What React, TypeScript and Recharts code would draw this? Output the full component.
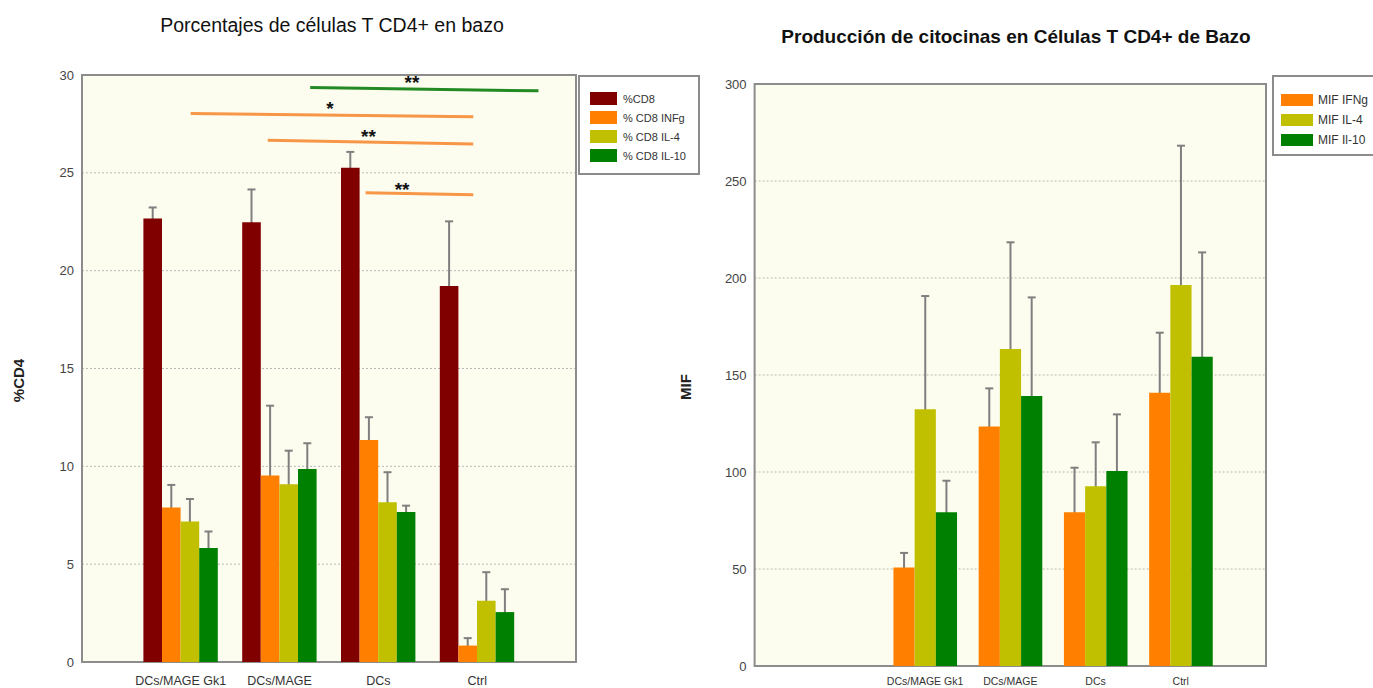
import React from 'react';
import {
  BarChart, Bar, XAxis, YAxis, CartesianGrid, Legend, ErrorBar,
  ReferenceArea, ReferenceLine, ReferenceDot,
} from 'recharts';

const groups = ['DCs/MAGE Gk1', 'DCs/MAGE', 'DCs', 'Ctrl'];

// %CD4 panel: means and SD
const cd8 = [22.67, 22.47, 25.26, 19.21];
const cd8Sd = [0.56, 1.68, 0.81, 3.31];
const cd8Ifng = [7.89, 9.53, 11.35, 0.84];
const cd8IfngSd = [1.16, 3.57, 1.16, 0.38];
const cd8Il4 = [7.18, 9.09, 8.17, 3.13];
const cd8Il4Sd = [1.15, 1.71, 1.53, 1.46];
const cd8Il10 = [5.82, 9.87, 7.66, 2.55];
const cd8Il10Sd = [0.85, 1.31, 0.33, 1.17];
const pctTicks = [0, 5, 10, 15, 20, 25, 30];
const pctNames = ['%CD8', '% CD8 INFg', '% CD8 IL-4', '% CD8 IL-10'];

// MIF panel
const mifIfng = [50.8, 123.4, 79.2, 140.9];
const mifIfngSd = [7.5, 19.7, 23.0, 30.9];
const mifIl4 = [132.3, 163.4, 92.6, 196.4];
const mifIl4Sd = [58.4, 55.0, 22.7, 71.8];
const mifIl10 = [79.2, 139.2, 100.5, 159.4];
const mifIl10Sd = [16.3, 50.8, 29.2, 53.8];
const mifTicks = [0, 50, 100, 150, 200, 250, 300];
const mifNames = ['MIF IFNg', 'MIF IL-4', 'MIF Il-10'];

// significance bars; x in group units (group i sits at i + 1)
const sigX1 = [2.31, 1.10, 1.88, 2.87];
const sigX2 = [4.62, 3.96, 3.96, 3.96];
const sigY1 = [29.36, 28.03, 26.67, 23.98];
const sigY2 = [29.19, 27.86, 26.47, 23.88];
const sigMarks = ['**', '*', '**', '**'];
const sigMarkX = [3.34, 2.51, 2.90, 3.24];
const sigMarkY = [29.62, 28.3, 26.86, 24.16];
const sigColors = ['#238a23', '#f79646', '#f79646', '#f79646'];

const C_RED = '#800000';
const C_ORANGE = '#ff8000';
const C_YELLOW = '#c0c000';
const C_GREEN = '#008000';
const PLOT_BG = '#fdfdef';
const FRAME = '#8c8c8c';
const ERR = '#7f7f7f';
const FONT = "'Liberation Sans Narrow', 'Liberation Sans', Arial, sans-serif";

// whiskers sit below the bars, so only the upper half shows
const ERR_Z = 250;
const BAR_Z = 300;

const pctData = groups.map((g, i) => ({
  group: g,
  pos: i + 1,
  cd8: cd8[i], cd8Err: cd8Sd[i],
  ifng: cd8Ifng[i], ifngErr: cd8IfngSd[i],
  il4: cd8Il4[i], il4Err: cd8Il4Sd[i],
  il10: cd8Il10[i], il10Err: cd8Il10Sd[i],
}));

// the MIF panel leaves an empty slot before the first group
const mifData = groups.map((g, i) => ({
  group: g,
  pos: i + 2,
  ifng: mifIfng[i], ifngErr: mifIfngSd[i],
  il4: mifIl4[i], il4Err: mifIl4Sd[i],
  il10: mifIl10[i], il10Err: mifIl10Sd[i],
}));

const brackets = sigMarks.map((m, i) => ({
  x1: sigX1[i], x2: sigX2[i], y1: sigY1[i], y2: sigY2[i],
  mark: m, mx: sigMarkX[i], my: sigMarkY[i], color: sigColors[i],
}));

const legendBox = (order: string[], o: { w: number; h: number; padTop: number; padLeft: number; row: number; sw: number; sh: number; gap: number; fs: number }) =>
  (props: any) => {
    const items = [...(props.payload || [])].sort((a: any, b: any) => order.indexOf(a.value) - order.indexOf(b.value));
    return (
      <div
        style={{
          width: o.w, height: o.h, boxSizing: 'border-box', border: `2px solid ${FRAME}`,
          background: '#ffffff', paddingTop: o.padTop, paddingLeft: o.padLeft, fontFamily: FONT,
        }}
      >
        {items.map((e: any) => (
          <div key={e.value} style={{ display: 'flex', alignItems: 'center', height: o.row }}>
            <span style={{ display: 'inline-block', width: o.sw, height: o.sh, background: e.color, marginRight: o.gap }} />
            <span style={{ fontSize: o.fs, color: '#333' }}>{e.value}</span>
          </div>
        ))}
      </div>
    );
  };

const sideLabel = (text: string, dx: number) => (props: any) => {
  const vb = props.viewBox;
  const cx = vb.x + dx;
  const cy = vb.y + vb.height / 2 + 12;
  return (
    <text x={cx} y={cy} transform={`rotate(-90 ${cx} ${cy})`} textAnchor="middle"
      dominantBaseline="central" fontWeight="bold" fontSize={15} fill="#222" fontFamily="'Liberation Sans', Arial, sans-serif">
      {text}
    </text>
  );
};

const PercentChart = () => (
  <BarChart width={700} height={688} data={pctData} barGap={0}
    margin={{ top: 75, right: 124, bottom: 0, left: 0 }}>
    <CartesianGrid vertical={false} stroke="#b8b8b8" strokeDasharray="2 2" fill={PLOT_BG} />
    <XAxis type="number" dataKey="pos" domain={[0, 5]} allowDataOverflow ticks={[1, 2, 3, 4]}
      tickFormatter={(v: number) => groups[v - 1]} interval={0}
      height={26} axisLine={false} tickLine={false} tickMargin={8}
      tick={{ fontSize: 12.5, fill: '#333' }} />
    <YAxis width={82} domain={[0, 30]} ticks={pctTicks} axisLine={false} tickLine={false}
      tick={{ fontSize: 13, fill: '#444' }} label={sideLabel('%CD4', 18)} />
    <Bar dataKey="cd8" name={pctNames[0]} fill={C_RED} barSize={18.6} zIndex={BAR_Z} isAnimationActive={false}>
      <ErrorBar dataKey="cd8Err" width={4} stroke={ERR} strokeWidth={2} direction="y" zIndex={ERR_Z} />
    </Bar>
    <Bar dataKey="ifng" name={pctNames[1]} fill={C_ORANGE} barSize={18.6} zIndex={BAR_Z} isAnimationActive={false}>
      <ErrorBar dataKey="ifngErr" width={4} stroke={ERR} strokeWidth={2} direction="y" zIndex={ERR_Z} />
    </Bar>
    <Bar dataKey="il4" name={pctNames[2]} fill={C_YELLOW} barSize={18.6} zIndex={BAR_Z} isAnimationActive={false}>
      <ErrorBar dataKey="il4Err" width={4} stroke={ERR} strokeWidth={2} direction="y" zIndex={ERR_Z} />
    </Bar>
    <Bar dataKey="il10" name={pctNames[3]} fill={C_GREEN} barSize={18.6} zIndex={BAR_Z} isAnimationActive={false}>
      <ErrorBar dataKey="il10Err" width={4} stroke={ERR} strokeWidth={2} direction="y" zIndex={ERR_Z} />
    </Bar>
    <ReferenceArea x1={0} x2={5} y1={0} y2={30} fill="none" stroke={FRAME} strokeWidth={2} ifOverflow="visible" />
    {brackets.map((b, i) => (
      <ReferenceLine key={`l${i}`} stroke={b.color} strokeWidth={3} ifOverflow="visible"
        segment={[{ x: b.x1, y: b.y1 }, { x: b.x2, y: b.y2 }]} />
    ))}
    {brackets.map((b, i) => (
      <ReferenceDot key={`m${i}`} x={b.mx} y={b.my} r={0} fill="none" stroke="none" ifOverflow="visible"
        label={{ value: b.mark, position: 'center', fill: '#111', fontSize: 19, fontWeight: 'bold' }} />
    ))}
    <Legend layout="vertical" align="center" verticalAlign="middle"
      wrapperStyle={{ left: 578, top: 75, width: 122, height: 100 }}
      content={legendBox(pctNames, { w: 122, h: 100, padTop: 12, padLeft: 10, row: 19, sw: 27, sh: 13, gap: 6, fs: 11 })} />
  </BarChart>
);

const MifChart = () => (
  <BarChart width={713} height={688} data={mifData} barGap={0}
    margin={{ top: 84, right: 107, bottom: 0, left: 0 }}>
    <CartesianGrid vertical={false} stroke="#b8b8b8" strokeDasharray="2 2" fill={PLOT_BG} />
    <XAxis type="number" dataKey="pos" domain={[0, 6]} allowDataOverflow ticks={[2, 3, 4, 5]}
      tickFormatter={(v: number) => groups[v - 2]} interval={0}
      height={22} axisLine={false} tickLine={false} tickMargin={6}
      tick={{ fontSize: 10.5, fill: '#333' }} />
    <YAxis width={94.6} domain={[0, 300]} ticks={mifTicks} axisLine={false} tickLine={false}
      tick={{ fontSize: 13, fill: '#444' }} label={sideLabel('MIF', 25)} />
    <Bar dataKey="ifng" name={mifNames[0]} fill={C_ORANGE} barSize={21.2} zIndex={BAR_Z} isAnimationActive={false}>
      <ErrorBar dataKey="ifngErr" width={4} stroke={ERR} strokeWidth={2} direction="y" zIndex={ERR_Z} />
    </Bar>
    <Bar dataKey="il4" name={mifNames[1]} fill={C_YELLOW} barSize={21.2} zIndex={BAR_Z} isAnimationActive={false}>
      <ErrorBar dataKey="il4Err" width={4} stroke={ERR} strokeWidth={2} direction="y" zIndex={ERR_Z} />
    </Bar>
    <Bar dataKey="il10" name={mifNames[2]} fill={C_GREEN} barSize={21.2} zIndex={BAR_Z} isAnimationActive={false}>
      <ErrorBar dataKey="il10Err" width={4} stroke={ERR} strokeWidth={2} direction="y" zIndex={ERR_Z} />
    </Bar>
    <ReferenceArea x1={0} x2={6} y1={0} y2={300} fill="none" stroke={FRAME} strokeWidth={2} ifOverflow="visible" />
    <Legend layout="vertical" align="center" verticalAlign="middle"
      wrapperStyle={{ left: 612, top: 75, width: 110, height: 81 }}
      content={legendBox(mifNames, { w: 110, h: 81, padTop: 13, padLeft: 7, row: 20, sw: 32, sh: 12, gap: 5, fs: 12 })} />
  </BarChart>
);

const titleStyle: React.CSSProperties = {
  position: 'absolute', whiteSpace: 'nowrap', transform: 'translate(-50%, -50%)',
  fontFamily: "'Liberation Sans', Arial, sans-serif", color: '#111',
};

export default function App() {
  return (
    <div style={{ position: 'absolute', left: 0, top: 0, width: 1373, height: 688, overflow: 'hidden', background: '#fff', fontFamily: FONT }}>
      <div style={{ position: 'absolute', left: 0, top: 0 }}>
        <PercentChart />
      </div>
      <div style={{ position: 'absolute', left: 660, top: 0 }}>
        <MifChart />
      </div>
      <div style={{ ...titleStyle, left: 332, top: 25, fontSize: 19.5 }}>
        Porcentajes de células T CD4+ en bazo
      </div>
      <div style={{ ...titleStyle, left: 1016, top: 37, fontSize: 19, fontWeight: 'bold' }}>
        Producción de citocinas en Células T CD4+ de Bazo
      </div>
    </div>
  );
}
